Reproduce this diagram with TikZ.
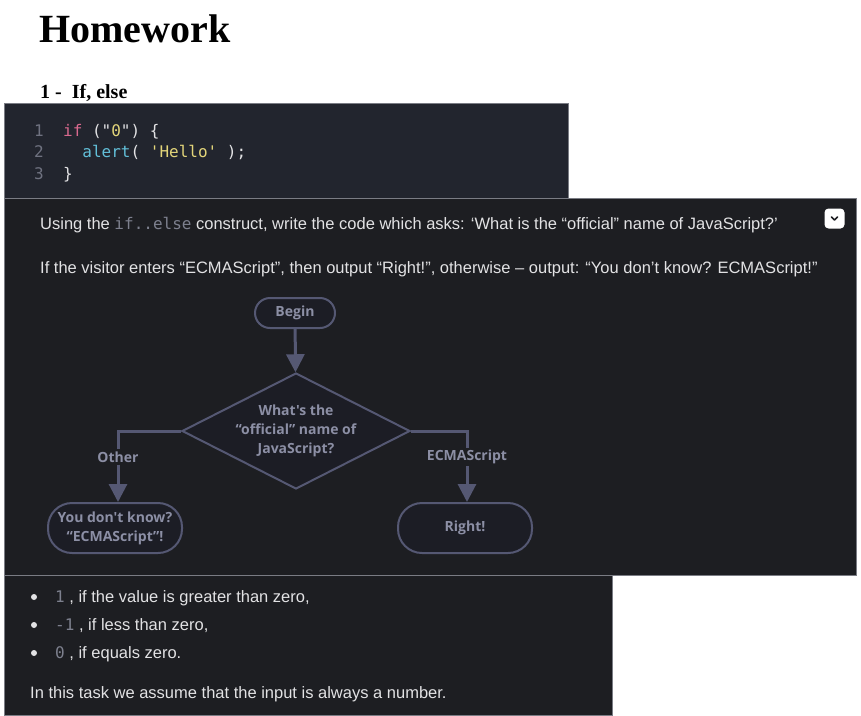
\documentclass[tikz,border=0pt]{standalone}
\usepackage{fontspec}
\setmainfont{Liberation Serif}
\newfontfamily\uifont{Liberation Sans}
\newfontfamily\codefont{DejaVu Sans Mono}
\newfontfamily\flowfont{Open Sans}
\usepackage{xcolor}
\usetikzlibrary{shapes.geometric, arrows.meta}
\definecolor{codebg}{HTML}{22252E}
\definecolor{taskbg}{HTML}{1D1E22}
\definecolor{paneledge}{HTML}{7A7C84}
\definecolor{flowline}{HTML}{555873}
\definecolor{flowtext}{HTML}{8C8FA5}
\definecolor{nodefill}{HTML}{1C1D25}
\definecolor{uitext}{HTML}{E2E2E4}
\definecolor{lineno}{HTML}{6F7280}
\definecolor{kwpink}{HTML}{D9698E}
\definecolor{fncyan}{HTML}{62BFD8}
\definecolor{stryellow}{HTML}{E3D57A}
\definecolor{inlinegray}{HTML}{7D808E}
\newcommand{\inlinecode}[1]{{\codefont\fontsize{16}{19}\selectfont\color{inlinegray}#1}}
\tikzset{
  uitext/.style={anchor=base west, inner sep=0pt, text=uitext,
    font=\uifont\fontsize{16.5}{19}\selectfont},
  codeline/.style={anchor=base west, inner sep=0pt, text=uitext,
    font=\codefont\fontsize{16}{19}\selectfont},
  dot/.style={circle, fill=uitext, inner sep=0pt, minimum size=6pt}
}

\begin{document}
\begin{tikzpicture}[x=1pt, y=-1pt,
    term/.style={draw=flowline, line width=2pt, fill=nodefill, rounded corners=15pt,
      text=flowtext, font=\flowfont\bfseries\fontsize{14}{19}\selectfont,
      align=center, inner sep=0pt},
    decision/.style={diamond, shape aspect=2, draw=flowline, line width=2pt, fill=nodefill,
      text=flowtext, font=\flowfont\bfseries\fontsize{14}{19}\selectfont,
      align=center, inner sep=0pt, minimum width=228pt, minimum height=116pt},
    branch/.style={text=flowtext, font=\flowfont\bfseries\fontsize{14}{16}\selectfont,
      inner sep=2pt},
    flowarrow/.style={draw=flowline, line width=3pt, -{Triangle[length=18pt,width=18pt]}},
    flowline/.style={draw=flowline, line width=3pt} ]
    \useasboundingbox (0,0) rectangle (861,715);
    \fill [white] (0,0) rectangle (861,715);
    % panels
    \filldraw [fill=codebg, draw=paneledge, line width=1pt] (4,103) rectangle (568,198);
    \filldraw [fill=taskbg, draw=paneledge, line width=1pt] (4,575) rectangle (612,715);
    \filldraw [fill=taskbg, draw=paneledge, line width=1pt] (4,198) rectangle (856,575);
    % headings
    \node at (39,42) [anchor=base west, inner sep=0pt] (title)
      {\bfseries\fontsize{40}{40}\selectfont Homework};
    \node at (40,98) [anchor=base west, inner sep=0pt] (part1)
      {\bfseries\fontsize{20}{20}\selectfont 1 -\ \ If, else};
    % code
    \node at (34,136) [codeline, text=lineno] (ln1) {1};
    \node at (34,157) [codeline, text=lineno] (ln2) {2};
    \node at (34,179) [codeline, text=lineno] (ln3) {3};
    \node at (63,136) [codeline] (code1)
      {\textcolor{kwpink}{if} ("\textcolor{stryellow}{0}") \{};
    \node at (63,157) [codeline] (code2)
      {\ \ \textcolor{fncyan}{alert}( \textcolor{stryellow}{'Hello'} );};
    \node at (63,179) [codeline] (code3) {\}};
    % task text
    \node at (40,229) [uitext] (ask)
      {Using the \inlinecode{if..else} construct, write the code which asks: ‘What is the “official” name of JavaScript?’};
    \node at (40,273) [uitext] (rule)
      {If the visitor enters “ECMAScript”, then output “Right!”, otherwise – output: “You don’t know? ECMAScript!”};
    \node at (834.5,218.5) [fill=white, rounded corners=4pt, minimum size=20pt, inner sep=0pt]
      (fold) {};
    \draw [taskbg, line width=1.6pt, line cap=round, line join=round]
      ([xshift=-3pt,yshift=1.5pt]fold.center) -- ([yshift=-1.5pt]fold.center)
      -- ([xshift=3pt,yshift=1.5pt]fold.center);
    % flowchart
    \node at (295,313) [term, minimum width=80pt, minimum height=30pt] (begin) {Begin};
    \node at (296,431) [decision] (q) {What's the\\“official” name of\\JavaScript?};
    \node at (118,457) [branch] (other) {Other};
    \node at (467,457) [branch] (ecma) {ECMAScript};
    \node at (115,528) [term, minimum width=134pt, minimum height=50pt, rounded corners=24pt]
      (dontknow) {You don't know?\\“ECMAScript”!};
    \node at (465,528) [term, minimum width=134pt, minimum height=50pt, rounded corners=24pt]
      (right) {Right!};
    \draw [flowarrow] (begin) -- (q);
    \draw [flowline] (q.west) -| (other.north);
    \draw [flowarrow] (other.south) -- (other.south |- dontknow.north);
    \draw [flowline] (q.east) -| (ecma.north);
    \draw [flowarrow] (ecma.south) -- (ecma.south |- right.north);
    % list
    \node at (34,597) [dot] (b1) {};
    \node at (34,625) [dot] (b2) {};
    \node at (34,653) [dot] (b3) {};
    \node at (55,602) [uitext] (it1) {\inlinecode{1} , if the value is greater than zero,};
    \node at (55,630) [uitext] (it2) {\inlinecode{-1} , if less than zero,};
    \node at (55,658) [uitext] (it3) {\inlinecode{0} , if equals zero.};
    \node at (30,698) [uitext] (note) {In this task we assume that the input is always a number.};
\end{tikzpicture}
\end{document}
